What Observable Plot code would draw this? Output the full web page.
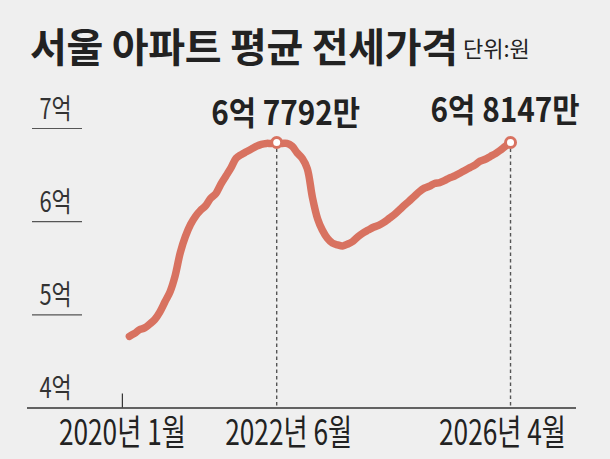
<!DOCTYPE html>
<html>
<head>
<meta charset="utf-8">
<script src="https://cdn.jsdelivr.net/npm/d3@7"></script>
<script src="https://cdn.jsdelivr.net/npm/@observablehq/plot@0.6"></script>
<style>
html, body { margin: 0; padding: 0; background: #efefef; }
#wrap { position: relative; width: 610px; height: 459px; overflow: hidden; font-family: "Noto Sans CJK KR", sans-serif; color: #222; }
#title { position: absolute; left: 30px; top: 25px; font-size: 40px; line-height: 40px; font-weight: 700; white-space: nowrap; letter-spacing: -0.3px; }
#unit { position: absolute; left: 463px; top: 36px; font-size: 22px; line-height: 22px; font-weight: 400; white-space: nowrap; }
#chart { position: absolute; left: 0; top: 0; }
</style>
</head>
<body>
<div id="wrap">
  <div id="chart"></div>
  <div id="title">서울 아파트 평균 전세가격</div>
  <div id="unit">단위:원</div>
</div>
<script>
// Monthly average jeonse price (억 원), Jan 2020 – Apr 2026
const startMonth = new Date(Date.UTC(2020, 0, 1));
const endMonthExclusive = new Date(Date.UTC(2026, 4, 1));
const values = [
  4.77,4.80,4.84,4.86,4.90,4.95,5.03,5.14,5.25,5.42,
  5.67,5.84,5.97,6.06,6.12,6.17,6.25,6.30,6.40,6.49,
  6.58,6.68,6.72,6.75,6.78,6.81,6.83,6.84,6.84,6.85,
  6.84,6.84,6.81,6.74,6.68,6.57,6.26,6.03,5.91,5.82,
  5.77,5.75,5.74,5.76,5.79,5.84,5.88,5.91,5.94,5.96,
  5.99,6.03,6.07,6.12,6.17,6.22,6.27,6.32,6.36,6.38,
  6.41,6.42,6.44,6.47,6.49,6.52,6.55,6.58,6.61,6.65,
  6.67,6.70,6.73,6.77,6.81,6.85
];
const yTicks = [4, 5, 6, 7];
const yTickLabels = ["4억", "5억", "6억", "7억"];
const yUnderlines = [5, 6, 7];
const xTickDates = [new Date(Date.UTC(2020, 0, 1)), new Date(Date.UTC(2022, 5, 1)), new Date(Date.UTC(2026, 3, 1))];
const xTickLabels = ["2020년 1월", "2022년 6월", "2026년 4월"];
const highlightDates = [new Date(Date.UTC(2022, 5, 1)), new Date(Date.UTC(2026, 3, 1))];
const highlightLabels = ["6억 7792만", "6억 8147만"];
const xDomain = [new Date(Date.UTC(2018, 4, 1)), new Date(Date.UTC(2027, 4, 1))];

const months = d3.utcMonth.range(startMonth, endMonthExclusive);
const data = months.map((date, i) => ({date, value: values[i]}));
const highlights = highlightDates.map((date, i) => ({
  date,
  value: data.find(d => +d.date === +date).value,
  label: highlightLabels[i]
}));

const lineColor = "#d87260";
const ink = "#222";

const chart = Plot.plot({
  width: 610,
  height: 459,
  marginLeft: 27,
  marginRight: 34,
  marginTop: 128,
  marginBottom: 51.5,
  x: {type: "utc", domain: xDomain, axis: null},
  y: {domain: [4, 7], axis: null},
  style: {background: "transparent", fontFamily: "'Noto Sans CJK KR', sans-serif", color: ink},
  marks: [
    Plot.ruleY(yUnderlines, {y: d => d, insetLeft: 5, insetRight: 494, stroke: "#555", strokeWidth: 1.2}),
    Plot.ruleY([yTicks[0]], {y: d => d, stroke: "#333", strokeWidth: 1.5}),
    Plot.ruleX([xTickDates[0]], {x: d => d, insetTop: 265.5, dx: -7, stroke: "#333", strokeWidth: 1.2}),
    Plot.ruleX(highlights, {x: "date", y1: "value", y2: yTicks[0], stroke: "#555", strokeWidth: 1.4, strokeDasharray: "3.5,3"}),
    Plot.line(data, {x: "date", y: "value", stroke: lineColor, strokeWidth: 7.5, strokeLinecap: "round", strokeLinejoin: "round", curve: "catmull-rom"}),
    Plot.dot(highlights, {x: "date", y: "value", r: 5, fill: "white", stroke: lineColor, strokeWidth: 3}),
    Plot.text(yTicks, {y: d => d, text: (d, i) => yTickLabels[i], frameAnchor: "left", dx: 28, dy: -10, textAnchor: "middle", lineAnchor: "bottom", fontSize: 28, fill: "#333", ariaLabel: () => "ylabels"}),
    Plot.text([xTickLabels[0]], {x: () => xTickDates[0], text: d => d, frameAnchor: "bottom", dx: -7, dy: 12.6, textAnchor: "middle", lineAnchor: "top", fontSize: 35, fill: ink, ariaLabel: () => "xlabels"}),
    Plot.text([xTickLabels[1]], {x: () => xTickDates[1], text: d => d, frameAnchor: "bottom", dx: 12, dy: 12.6, textAnchor: "middle", lineAnchor: "top", fontSize: 35, fill: ink, ariaLabel: () => "xlabels"}),
    Plot.text([xTickLabels[2]], {x: () => xTickDates[2], text: d => d, frameAnchor: "bottom", dx: -8, dy: 12.6, textAnchor: "middle", lineAnchor: "top", fontSize: 35, fill: ink, ariaLabel: () => "xlabels"}),
    Plot.text([highlights[0]], {x: "date", y: "value", text: "label", dx: 9, dy: -17, textAnchor: "middle", lineAnchor: "bottom", fontSize: 33, fontWeight: 700, fill: ink, ariaLabel: () => "annot"}),
    Plot.text([highlights[1]], {x: "date", y: "value", text: "label", dx: -5.5, dy: -20, textAnchor: "middle", lineAnchor: "bottom", fontSize: 33, fontWeight: 700, fill: ink, ariaLabel: () => "annot"})
  ]
});
document.getElementById("chart").appendChild(chart);

// Condense text horizontally (the reference uses a narrow typeface):
// append a horizontal scale to each text's own transform, about its anchor point.
const condenseFactor = {ylabels: 0.78, xlabels: 0.75, annot: 0.9};
chart.querySelectorAll("text").forEach(t => {
  const s = condenseFactor[t.getAttribute("aria-label")];
  if (!s) return;
  let tr = t.getAttribute("transform") || "";
  const x = +(t.getAttribute("x") || 0), y = +(t.getAttribute("y") || 0);
  if (x || y) {
    tr += ` translate(${x},${y})`;
    t.removeAttribute("x");
    t.removeAttribute("y");
  }
  t.setAttribute("transform", `${tr} scale(${s},1)`.trim());
});
</script>
</body>
</html>
